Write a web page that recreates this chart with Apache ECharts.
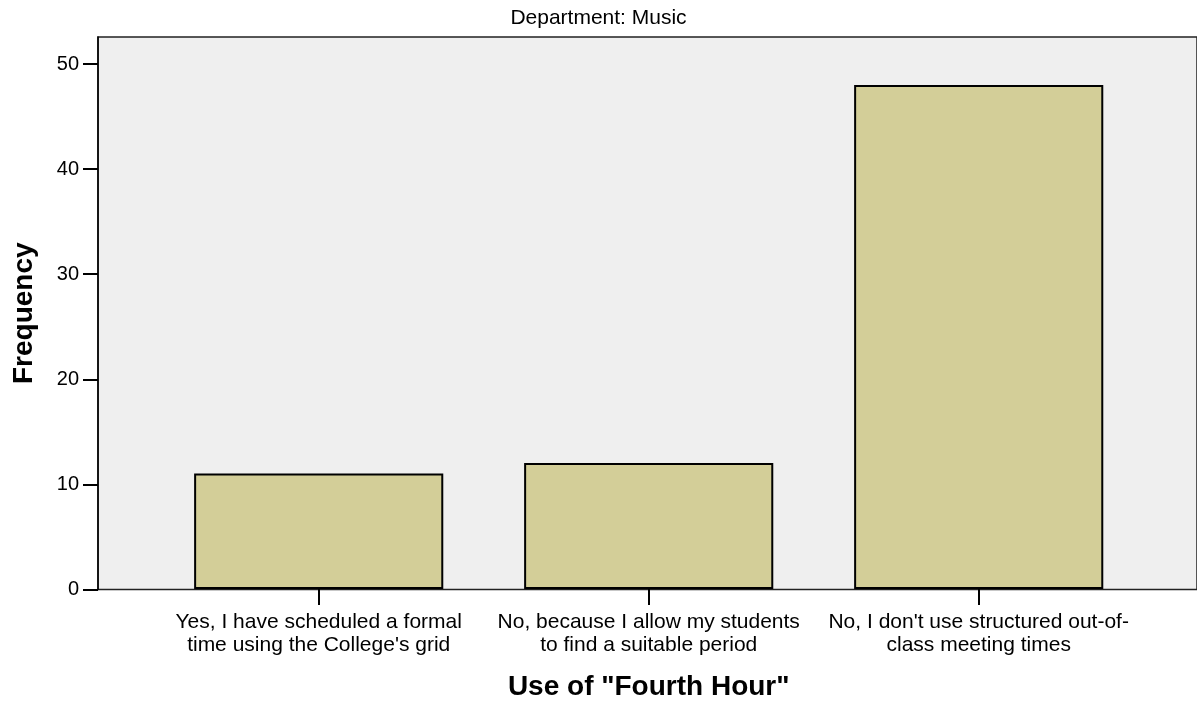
<!DOCTYPE html>
<html><head><meta charset="utf-8">
<script src="https://cdn.jsdelivr.net/npm/echarts@6/dist/echarts.min.js"></script>
<style>html,body{margin:0;padding:0;background:#fff}#c{width:1197px;height:706px}</style>
</head><body><div id="c"></div>
<script>
const chartTitle = 'Department: Music';
const xAxisTitle = 'Use of "Fourth Hour"';
const yAxisTitle = 'Frequency';
const categories = [
  "Yes, I have scheduled a formal\ntime using the College's grid",
  "No, because I allow my students\nto find a suitable period",
  "No, I don't use structured out-of-\nclass meeting times"
];
const frequencies = [11, 12, 48];
const yTicks = [0, 10, 20, 30, 40, 50];
const yMax = 52.57;

const font = 'Liberation Sans, Arial, sans-serif';
const chart = echarts.init(document.getElementById('c'));
chart.setOption({
  animation: false,
  title: { text: chartTitle, left: 'center', top: 3, textStyle: { fontFamily: font, fontSize: 21, fontWeight: 'normal', color: '#000' } },
  grid: [
    { left: 98, right: -10, top: 37, bottom: 116.5, show: true, backgroundColor: '#efefef', borderColor: '#222', borderWidth: 1.5 },
    { left: 153.7, right: 53.3, top: 37, bottom: 116.5 }
  ],
  xAxis: [
    { gridIndex: 0, type: 'value', min: 0, max: 1, show: false },
    { gridIndex: 1, type: 'category', data: categories,
      axisLine: { show: false },
      axisTick: { show: true, alignWithLabel: true, length: 16, lineStyle: { color: '#000', width: 2 } },
      axisLabel: { interval: 0, color: '#000', fontFamily: font, fontSize: 21, lineHeight: 23.5, margin: 21 },
      name: xAxisTitle, nameLocation: 'middle', nameGap: 84,
      nameTextStyle: { fontFamily: font, fontSize: 28, fontWeight: 'bold', color: '#000' }
    }
  ],
  yAxis: [
    { gridIndex: 0, type: 'value', min: 0, max: yMax,
      axisLine: { show: true, lineStyle: { color: '#000', width: 1.5 } },
      axisTick: { show: true, length: 15, lineStyle: { color: '#000', width: 2 }, customValues: yTicks },
      axisLabel: { color: '#000', fontFamily: font, fontSize: 20, margin: 19, customValues: yTicks },
      splitLine: { show: false },
      name: yAxisTitle, nameLocation: 'middle', nameGap: 60, nameRotate: 90,
      nameTextStyle: { fontFamily: font, fontSize: 28, fontWeight: 'bold', color: '#000' }
    },
    { gridIndex: 1, type: 'value', min: 0, max: yMax, show: false, splitLine: { show: false } }
  ],
  series: [{
    type: 'bar', xAxisIndex: 1, yAxisIndex: 1, data: frequencies,
    barWidth: '75.5%',
    itemStyle: { color: '#d3ce98', borderColor: '#000', borderWidth: 2 }
  }]
});
</script></body></html>
